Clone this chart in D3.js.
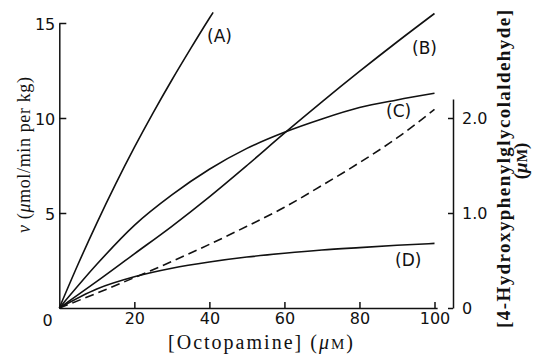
<!DOCTYPE html>
<html>
<head>
<meta charset="utf-8">
<script src="https://cdn.jsdelivr.net/npm/d3@7"></script>
<style>
  html, body { margin: 0; padding: 0; background: #fff; }
  svg { display: block; }
</style>
</head>
<body>
<svg id="chart" width="541" height="359"></svg>
<script>
// ---- data ----
const octopamine = [0, 10, 20, 30, 40, 50, 60, 70, 80, 90, 100];
const octopamineA = [0, 5, 10, 15, 20, 25, 30, 35, 40, 41];
const curveA = [0, 2.3, 4.47, 6.52, 8.45, 10.27, 12.0, 13.65, 15.25, 15.56];
const curveB = [0, 1.4, 2.85, 4.3, 5.85, 7.5, 9.2, 10.85, 12.45, 14.0, 15.5];
const curveC = [0, 2.3, 4.35, 5.95, 7.3, 8.4, 9.25, 9.95, 10.55, 10.95, 11.3];
const curveD = [0, 1.0, 1.64, 2.09, 2.42, 2.68, 2.88, 3.05, 3.18, 3.3, 3.4];
const aldehyde = [0, 0.156, 0.32, 0.49, 0.67, 0.86, 1.06, 1.29, 1.53, 1.79, 2.09];
const curveLabels = ["(A)", "(B)", "(C)", "(D)"];
const xTicks = [20, 40, 60, 80, 100];
const yTicks = [5, 10, 15];
const rightTicks = [0, 1.0, 2.0];
const zeroLabel = "0";

const svg = d3.select("#chart");
const x = d3.scaleLinear().domain([0, 100]).range([59.3, 434.5]);
const y = d3.scaleLinear().domain([0, 15]).range([308, 23]);
const yR = d3.scaleLinear().domain([0, 2.0]).range([y(0), y(10)]);

const tickFont = "'DejaVu Sans', sans-serif";
const serif = "'Liberation Serif', 'Times New Roman', serif";

// x axis
const xAxisScale = x.copy().domain([0, 100.7]).range([x(0), x(100.7)]);
const gx = svg.append("g").attr("transform", `translate(0,${y(0)})`)
  .call(d3.axisBottom(xAxisScale).tickValues(xTicks).tickSize(-6).tickSizeOuter(0).tickPadding(14)
    .tickFormat(d3.format("d")));
// left axis
const gy = svg.append("g").attr("transform", `translate(${x(0)},0)`)
  .call(d3.axisLeft(y).tickValues(yTicks).tickSize(-7).tickSizeOuter(0).tickPadding(4));
// right axis
const yRAxis = yR.copy().domain([0, 2.2]).range([yR(0), yR(2.2)]);
const gr = svg.append("g").attr("transform", `translate(453,0)`)
  .call(d3.axisRight(yRAxis).tickValues(rightTicks).tickSize(-5).tickSizeOuter(0).tickPadding(9)
    .tickFormat(d => d === 0 ? "0" : d3.format(".1f")(d)));

[gx, gy, gr].forEach(g => {
  g.select(".domain").attr("stroke", "#111").attr("stroke-width", 1.5);
  g.selectAll(".tick line").attr("stroke", "#111").attr("stroke-width", 1.5);
  g.selectAll("text").attr("font-family", tickFont).attr("font-size", 16).attr("fill", "#111");
});
gx.selectAll("text").attr("dy", "0.1em");
gy.selectAll("text").attr("dy", "0.38em");

// shared zero at the origin
svg.append("text").attr("x", 47.5).attr("y", 326)
  .attr("text-anchor", "middle").attr("font-family", tickFont).attr("font-size", 16)
  .attr("fill", "#111").text(zeroLabel);

// curves
const lineL = d3.line().x(d => x(d[0])).y(d => y(d[1])).curve(d3.curveMonotoneX);
const lineR = d3.line().x(d => x(d[0])).y(d => yR(d[1])).curve(d3.curveMonotoneX);
const series = [
  d3.zip(octopamineA, curveA),
  d3.zip(octopamine, curveB),
  d3.zip(octopamine, curveC),
  d3.zip(octopamine, curveD)
];
series.forEach(s => {
  svg.append("path").attr("d", lineL(s)).attr("fill", "none")
    .attr("stroke", "#111").attr("stroke-width", 1.6);
});
svg.append("path").attr("d", lineR(d3.zip(octopamine, aldehyde))).attr("fill", "none")
  .attr("stroke", "#111").attr("stroke-width", 1.6).attr("stroke-dasharray", "9,5");

// curve labels
const labelPos = [[207, 42], [412, 54], [386, 117], [395, 266]];
curveLabels.forEach((t, i) => {
  svg.append("text").attr("x", labelPos[i][0]).attr("y", labelPos[i][1])
    .attr("font-family", tickFont).attr("font-size", 17).attr("fill", "#111").text(t);
});

// x title
const xt = svg.append("text").attr("x", 260.5).attr("y", 349).attr("text-anchor", "middle")
  .attr("font-family", serif).attr("font-size", 20).attr("fill", "#111")
  .attr("textLength", 185).attr("lengthAdjust", "spacing");
xt.append("tspan").text("[Octopamine] (");
xt.append("tspan").attr("font-style", "italic").text("μ");
xt.append("tspan").attr("font-size", 15).text("M");
xt.append("tspan").text(")");

// left title
const lt = svg.append("text").attr("transform", "translate(30,155) rotate(-90)")
  .attr("text-anchor", "middle").attr("font-family", serif).attr("font-size", 18).attr("fill", "#111")
  .attr("textLength", 156).attr("lengthAdjust", "spacing");
lt.append("tspan").attr("font-style", "italic").text("v");
lt.append("tspan").text(" (");
lt.append("tspan").attr("font-style", "italic").text("μ");
lt.append("tspan").text("mol/min per kg)");

// right title
svg.append("text").attr("transform", "translate(510,169) rotate(-90)")
  .attr("text-anchor", "middle").attr("font-family", serif).attr("font-size", 19)
  .attr("font-weight", "bold").attr("fill", "#111")
  .attr("textLength", 318).attr("lengthAdjust", "spacing")
  .text("[4-Hydroxyphenylglycolaldehyde]");
const rt2 = svg.append("text").attr("transform", "translate(527,161) rotate(-90)")
  .attr("text-anchor", "middle").attr("font-family", serif).attr("font-size", 19)
  .attr("font-weight", "bold").attr("fill", "#111");
rt2.append("tspan").text("(");
rt2.append("tspan").attr("font-style", "italic").text("μ");
rt2.append("tspan").attr("font-size", 14).text("M");
rt2.append("tspan").text(")");
</script>
</body>
</html>
